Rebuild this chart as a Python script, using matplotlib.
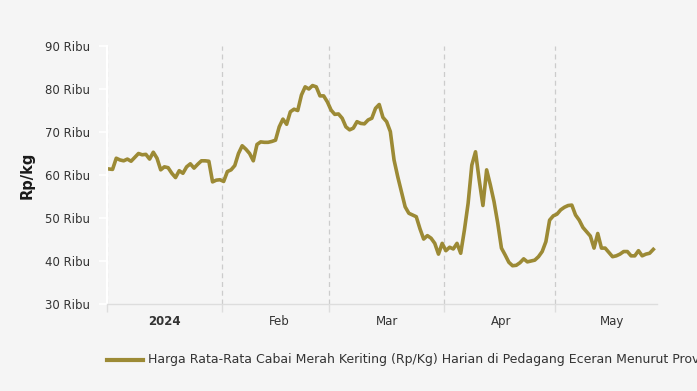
import numpy as np
import pandas as pd
import matplotlib
matplotlib.use('Agg')
import matplotlib.pyplot as plt
import matplotlib.dates as mdates

# harga harian cabai merah keriting (ribu Rp/kg), 1 Jan - 27 Mei 2024
start = '2024-01-01'
prices = [
    61.4, 61.3, 63.9, 63.5, 63.3, 63.7, 63.2, 64.1, 65.0, 64.7,
    64.8, 63.7, 65.3, 63.9, 61.2, 61.9, 61.7, 60.4, 59.4, 61.0,
    60.4, 61.9, 62.6, 61.6, 62.5, 63.3, 63.3, 63.2, 58.4, 58.8,
    58.9, 58.5, 60.8, 61.2, 62.2, 65.0, 66.8, 66.0, 65.0, 63.3,
    67.1, 67.7, 67.6, 67.6, 67.8, 68.1, 71.2, 73.0, 71.8, 74.7,
    75.3, 75.0, 78.6, 80.5, 80.0, 80.8, 80.5, 78.4, 78.4, 77.0,
    75.1, 74.1, 74.2, 73.2, 71.2, 70.5, 70.9, 72.4, 72.0, 71.9,
    72.8, 73.2, 75.5, 76.4, 73.4, 72.4, 70.1, 63.5, 59.6, 56.1,
    52.6, 51.1, 50.7, 50.3, 47.5, 45.1, 45.9, 45.3, 44.1, 41.6,
    44.1, 42.4, 43.2, 42.8, 44.1, 41.8, 47.2, 53.4, 62.3, 65.4,
    58.8, 52.9, 61.2, 57.7, 53.8, 48.8, 43.0, 41.4, 39.7, 38.9,
    39.0, 39.6, 40.5, 39.8, 40.0, 40.2, 41.0, 42.2, 44.5, 49.5,
    50.5, 50.9, 51.9, 52.5, 52.9, 53.0, 50.7, 49.5, 47.8, 46.8,
    45.8, 43.0, 46.4, 43.0, 43.0, 42.0, 41.0, 41.2, 41.6, 42.2,
    42.2, 41.2, 41.2, 42.4, 41.2, 41.6, 41.8, 42.7,
]
dates = pd.date_range(start, periods=len(prices), freq='D') + pd.Timedelta(hours=12)

month_starts = pd.to_datetime(['2024-01-01', '2024-02-01', '2024-03-01',
                               '2024-04-01', '2024-05-01'])
month_labels = ['2024', 'Feb', 'Mar', 'Apr', 'May']
y_ticks = [30, 40, 50, 60, 70, 80, 90]
y_labels = ['%d Ribu' % v for v in y_ticks]
series_name = ('Harga Rata-Rata Cabai Merah Keriting (Rp/Kg) Harian di '
               'Pedagang Eceran Menurut Provinsi')

bg = '#f5f5f5'
line_color = '#9c8a35'

fig = plt.figure(figsize=(6.97, 3.91), dpi=100, facecolor=bg)
ax = fig.add_axes([107 / 697, 1 - 304 / 391, 550 / 697, 258 / 391])
ax.set_facecolor(bg)

ax.plot(dates, prices, color=line_color, lw=2.6, solid_joinstyle='round')

ax.set_ylim(30, 90)
ax.set_xlim(pd.Timestamp('2024-01-01'), pd.Timestamp('2024-05-28 12:00'))

ax.set_yticks(y_ticks)
ax.set_yticklabels(y_labels)
ax.tick_params(axis='y', length=6, color='white', width=1.2, pad=6,
               labelsize=8.5, labelcolor='#333333')

# garis bulan di awal bulan, label di tengah bulan
ax.set_xticks(month_starts)
ax.set_xticklabels([''] * len(month_starts))
ax.tick_params(axis='x', which='major', length=6, color='#dddddd', width=1)
mid = month_starts + pd.Timedelta(days=15, hours=12)
ax.set_xticks(mid, minor=True)
ax.set_xticklabels(month_labels, minor=True)
ax.tick_params(axis='x', which='minor', length=0, pad=8, labelsize=8.5,
               labelcolor='#333333')
for i, lab in enumerate(ax.get_xticklabels(minor=True)):
    if i == 0:
        lab.set_fontweight('bold')

for d in month_starts[1:]:
    ax.axvline(d, color='#cccccc', lw=0.9, ls=(0, (4, 3)), zorder=0)
ax.axvline(month_starts[0], color='#dddddd', lw=0.9, ls=(0, (4, 3)), zorder=0)

for s in ['top', 'right']:
    ax.spines[s].set_visible(False)
ax.spines['left'].set_color('white')
ax.spines['left'].set_linewidth(1.5)
ax.spines['bottom'].set_color('#dddddd')
ax.spines['bottom'].set_linewidth(1)

fig.text(27 / 697, 1 - 175 / 391, 'Rp/kg', rotation=90, ha='center',
         va='center', fontsize=10.5, fontweight='bold', color='#1a1a1a')

# legenda
fig.lines.append(plt.Line2D([107 / 697, 143 / 697], [1 - 360 / 391] * 2,
                            transform=fig.transFigure, color=line_color, lw=3))
fig.text(148.5 / 697, 1 - 360 / 391, series_name, ha='left', va='center',
         fontsize=9, color='#333333')

fig.savefig('out.png', dpi=100, facecolor=bg)
